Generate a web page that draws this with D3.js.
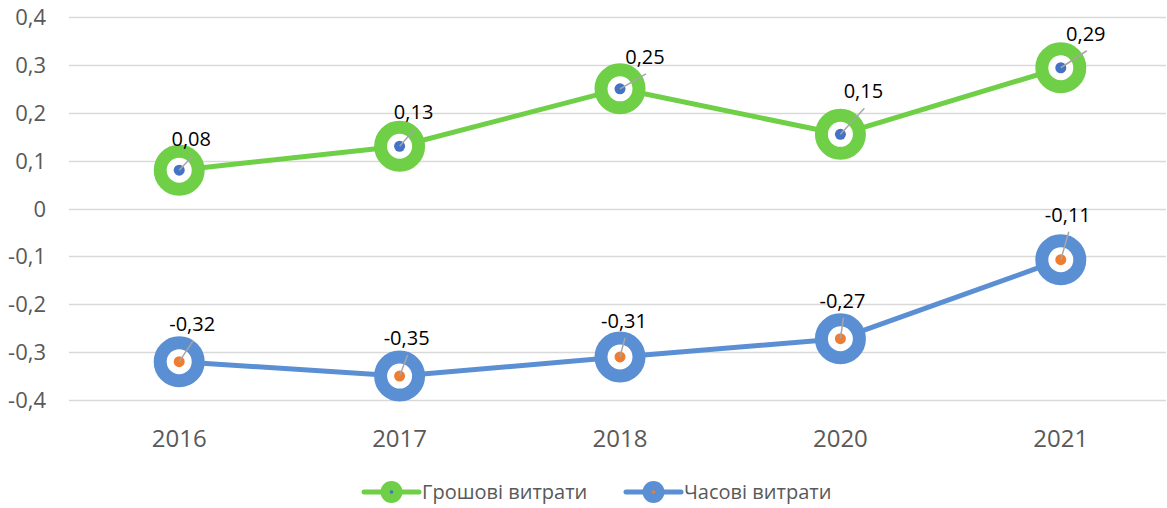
<!DOCTYPE html>
<html>
<head>
<meta charset="utf-8">
<script src="https://cdn.jsdelivr.net/npm/d3@7"></script>
<style>
  body { margin: 0; background: #fff; }
  svg { display: block; font-family: "Open Sans", "Noto Sans", sans-serif; }
</style>
</head>
<body>
<svg id="chart"></svg>
<script>
// data
var years = ["2016", "2017", "2018", "2020", "2021"];
var moneyCost = [0.08, 0.13, 0.25, 0.155, 0.294];
var timeCost = [-0.32, -0.35, -0.31, -0.272, -0.107];
var moneyLabels = ["0,08", "0,13", "0,25", "0,15", "0,29"];
var timeLabels = ["-0,32", "-0,35", "-0,31", "-0,27", "-0,11"];
var yTicks = [0.4, 0.3, 0.2, 0.1, 0, -0.1, -0.2, -0.3, -0.4];
var seriesNames = ["Грошові витрати", "Часові витрати"];

// label placement (moved by hand in the original), [dx, dy] from the point
var moneyLabelPos = [[12, -24], [14, -27], [25, -25], [23, -36], [25, -27]];
var timeLabelPos = [[13, -31], [7, -31], [4, -29], [2, -31], [7, -38]];

var width = 1167, height = 508;
var svg = d3.select("#chart").attr("width", width).attr("height", height);

var x = d3.scalePoint().domain(years).range([69, 1171]).padding(0.5);
var y = d3.scaleLinear().domain([-0.4, 0.4]).range([400, 17]);

var fmt = function (v) { return v === 0 ? "0" : d3.format(".1f")(v).replace(".", ",").replace("−", "-"); };

// grid
svg.append("g").selectAll("line")
  .data(yTicks).enter().append("line")
  .attr("x1", 69).attr("x2", 1166)
  .attr("y1", function (d) { return Math.round(y(d)) + 0.5; })
  .attr("y2", function (d) { return Math.round(y(d)) + 0.5; })
  .attr("stroke", "#d9d9d9").attr("stroke-width", 1.3);

// y labels
svg.append("g").selectAll("text")
  .data(yTicks).enter().append("text")
  .attr("x", 46).attr("y", function (d) { return y(d) + 8; })
  .attr("text-anchor", "end")
  .attr("font-size", 22).attr("fill", "#595959")
  .text(fmt);

// x labels
svg.append("g").selectAll("text")
  .data(years).enter().append("text")
  .attr("x", function (d) { return x(d); }).attr("y", 447)
  .attr("text-anchor", "middle")
  .attr("font-size", 24).attr("fill", "#595959")
  .text(function (d) { return d; });

var series = [
  { values: moneyCost, labels: moneyLabels, pos: moneyLabelPos, color: "#6fcf47", dot: "#4472c4" },
  { values: timeCost, labels: timeLabels, pos: timeLabelPos, color: "#5b8fd4", dot: "#ed7d31" }
];

var line = d3.line()
  .x(function (d, i) { return x(years[i]); })
  .y(function (d) { return y(d); });

series.forEach(function (s) {
  var g = svg.append("g");
  g.append("path")
    .attr("d", line(s.values))
    .attr("fill", "none").attr("stroke", s.color).attr("stroke-width", 5)
    .attr("stroke-linejoin", "round");

  var pts = g.selectAll(".pt").data(s.values).enter().append("g").attr("class", "pt")
    .attr("transform", function (d, i) { return "translate(" + x(years[i]) + "," + y(d) + ")"; });
  pts.append("circle").attr("r", 19)
    .attr("fill", "#fff").attr("stroke", s.color).attr("stroke-width", 13);
  pts.append("circle").attr("r", 5.5).attr("fill", s.dot);
  // leader line towards the label
  pts.append("line")
    .attr("x1", 0).attr("y1", 0)
    .attr("x2", function (d, i) { return s.pos[i][0] + 1; })
    .attr("y2", function (d, i) { return s.pos[i][1] + 10; })
    .attr("stroke", "#a6a6a6").attr("stroke-width", 1.5);
  pts.append("text")
    .attr("x", function (d, i) { return s.pos[i][0]; })
    .attr("y", function (d, i) { return s.pos[i][1]; })
    .attr("text-anchor", "middle")
    .attr("font-size", 20).attr("fill", "#000")
    .text(function (d, i) { return s.labels[i]; });
});

// legend
var legend = svg.append("g");
var legX = [364, 626];
series.forEach(function (s, i) {
  var lg = legend.append("g").attr("transform", "translate(" + legX[i] + ",492)");
  lg.append("line").attr("x1", 0).attr("x2", 55).attr("y1", 0).attr("y2", 0)
    .attr("stroke", s.color).attr("stroke-width", 5).attr("stroke-linecap", "round");
  lg.append("circle").attr("cx", 27.5).attr("r", 11).attr("fill", s.color);
  lg.append("circle").attr("cx", 27.5).attr("r", 1.8).attr("fill", s.dot);
  lg.append("text").attr("x", 58).attr("y", 7)
    .attr("font-size", 20).attr("fill", "#595959")
    .text(seriesNames[i]);
});
</script>
</body>
</html>
